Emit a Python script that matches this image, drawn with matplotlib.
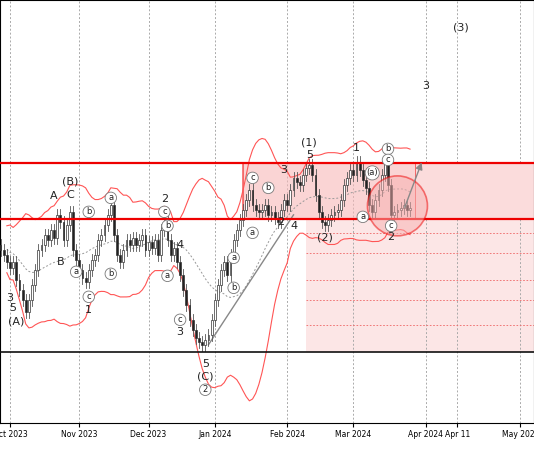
import numpy as np, pandas as pd
import matplotlib
matplotlib.use("Agg")
import matplotlib.pyplot as plt
from matplotlib.patches import Ellipse, Rectangle

# closes in chart level units (axis inverted: smaller = higher)
closes = [235,245,250,255,262, 268,262,280,290,300, 312,300,285,270,250,
          245,235,240,230,238, 215,222,240,225,212, 250,260,270,278,282,
          270,260,255,240,235, 225,215,205,235,255, 262,250,240,245,238,
          245,240,235,250,242, 248,240,255,230,222, 240,255,248,262,275,
          290,305,320,330,338, 342,345,340,335,320, 300,285,270,262,275,
          255,240,230,220,210, 200,190,205,210,212, 210,205,215,212,218,
          222,210,200,205,190, 178,182,185,175,168, 165,175,195,212,222,
          225,220,215,212,210, 200,185,178,170,175, 162,170,180,188,205,
          212,200,190,175,160, 185,215,212,210,208, 205,210,208]
dates = pd.bdate_range("2023-09-25", periods=len(closes))
upper_level, lower_level, base_level = 163, 219, 352

labels = [("(A)","2023-10-04",322,False),("3","2023-09-30",298,False),("5","2023-10-03",308,False),
          ("A","2023-10-20",196,False),("B","2023-10-24",262,False),("(B)","2023-10-27",182,False),
          ("C","2023-10-27",195,False),("a","2023-10-31",272,True),("b","2023-11-04",212,True),
          ("c","2023-11-04",297,True),("1","2023-11-04",310,False),("a","2023-11-15",198,True),
          ("b","2023-11-15",274,True),("2","2023-12-08",199,False),("c","2023-12-08",212,True),
          ("b","2023-12-11",226,True),("a","2023-12-11",276,True),("4","2023-12-15",245,False),
          ("c","2023-12-15",320,True),("3","2023-12-15",332,False),("5","2023-12-27",364,False),
          ("(C)","2023-12-27",377,False),("2","2023-12-27",390,True),("a","2024-01-09",258,True),
          ("b","2024-01-09",288,True),("c","2024-01-17",178,True),("a","2024-01-17",233,True),
          ("b","2024-01-24",188,True),("2","2024-01-30",222,False),("3","2024-01-31",170,False),
          ("4","2024-02-04",226,False),("(1)","2024-02-12",143,False),("5","2024-02-12",155,False),
          ("(2)","2024-02-19",238,False),("1","2024-03-03",148,False),("(a)","2024-03-09",173,True),
          ("a","2024-03-06",217,True),("b","2024-03-18",149,True),("c","2024-03-18",160,True),
          ("c","2024-03-19",226,True),("2","2024-03-19",237,False),("3","2024-04-01",86,False),
          ("(3)","2024-04-12",28,False)]
ticks = ["2023-10-01","2023-11-01","2023-12-01","2024-01-01","2024-02-01","2024-03-01","2024-04-01","2024-04-11","2024-05-01"]
tick_labels = ["Oct 2023","Nov 2023","Dec 2023","Jan 2024","Feb 2024","Mar 2024","Apr 2024","Apr 11","May 2024"]

first = dates[0]; last = dates[-1]; nlast = len(dates)-1
def X(ds):
    t = pd.Timestamp(ds)
    if t <= last:
        return float(np.busday_count(first.date(), t.date()))
    return nlast + (t - last).days

fig = plt.figure(figsize=(5.34,4.62), dpi=100)
ax = fig.add_axes([0.0,0.085,1.0,0.915])
c = np.array(closes, float)
o = np.r_[c[0], c[:-1]]
hi = np.minimum(o,c) - 6
lo = np.maximum(o,c) + 6
x = np.arange(len(c))
for xi,oi,ci,h,l in zip(x,o,c,hi,lo):
    ax.plot([xi,xi],[h,l],color="#555555",lw=0.6,zorder=3)
    fc = "#222222" if ci>oi else "white"
    ax.add_patch(Rectangle((xi-0.3,min(oi,ci)),0.6,max(abs(ci-oi),0.8),fc=fc,ec="#333333",lw=0.5,zorder=4))
s = pd.Series(c)
m = s.rolling(20,min_periods=5).mean(); sd = s.rolling(20,min_periods=5).std()
ax.plot(x,m+2.3*sd,color="#ff5555",lw=0.8)
ax.plot(x,m-2.3*sd,color="#ff5555",lw=0.8)
ax.plot(x,m,color="#999999",lw=0.7,ls=(0,(2,2)))

ax.axhline(upper_level,color="#ee0000",lw=1.6,zorder=5)
ax.axhline(lower_level,color="#ee0000",lw=1.6,zorder=5)
ax.axhline(base_level,color="#111111",lw=1.2,zorder=5)
x0 = X("2024-01-12"); x1 = X("2024-03-29")
ax.add_patch(Rectangle((x0,upper_level),x1-x0,lower_level-upper_level,fc="#f7b8b8",alpha=0.6,ec="#ee0000",lw=1.2,zorder=1))
ax.add_patch(Rectangle((x1,upper_level),80,lower_level-upper_level,fc="#fbdcdc",ec="none",zorder=1))
xf = X("2024-02-09")
ax.add_patch(Rectangle((xf,lower_level),120,base_level-lower_level,fc="#fce6e6",ec="none",zorder=0))
for yy in [233,253,280,300,325]:
    ax.plot([xf,xf+120],[yy,yy],color="#ee6666",lw=0.6,ls=(0,(2,2)),zorder=1)
ax.add_patch(Ellipse((X("2024-03-20")+1,206),60/3.15,60,fc="#f7b0b0",alpha=0.5,ec="#ee0000",lw=1.2,zorder=6))
ax.plot([X("2023-12-28"),X("2024-02-05")],[345,215],color="#888888",lw=1)
ax.annotate("",xy=(X("2024-03-31"),160),xytext=(X("2024-03-25"),210),
            arrowprops=dict(arrowstyle="-|>",color="#888888",lw=1),zorder=7)
for t,dt,yy,circ in labels:
    kw = dict(bbox=dict(boxstyle="circle,pad=0.15",fc="white",ec="#777777",lw=0.6)) if circ else {}
    ax.text(X(dt),yy,t,ha="center",va="center",fontsize=6 if circ else 8,color="#222222",zorder=8,**kw)

tx = [X(t) for t in ticks]
for t in tx:
    ax.axvline(t,color="#aaaaaa",lw=0.7,ls=(0,(2,2)),zorder=0)
ax.set_xticks(tx); ax.set_xticklabels(tick_labels,fontsize=5.5)
ax.tick_params(axis="x",length=3,pad=2)
ax.set_yticks([])
ax.set_xlim(X("2023-10-02")-10/3.15, X("2023-10-02")+524/3.15)
ax.set_ylim(423,0)
fig.savefig("out.png",dpi=100)
